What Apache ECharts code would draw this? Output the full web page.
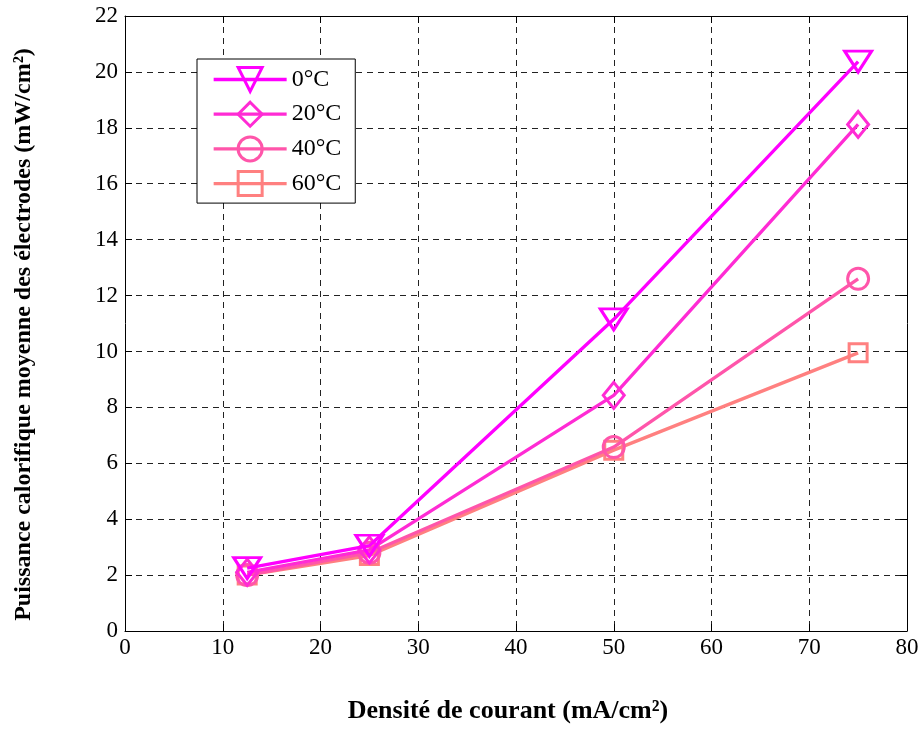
<!DOCTYPE html>
<html><head><meta charset="utf-8">
<script src="https://cdn.jsdelivr.net/npm/echarts@6/dist/echarts.min.js"></script>
<style>html,body{margin:0;padding:0;background:#fff}#c{width:923px;height:729px}</style>
</head><body><div id="c"></div>
<script>
const xValues = [12.5, 25, 50, 75];
const seriesNames = ['0°C', '20°C', '40°C', '60°C'];
const s0 = [2.25, 3.05, 11.15, 20.37];
const s20 = [2.1, 2.9, 8.43, 18.12];
const s40 = [2.0, 2.8, 6.58, 12.6];
const s60 = [2.0, 2.7, 6.47, 9.95];
const colors = ['#ff00ff', '#ff2bd4', '#ff55aa', '#ff8080'];
const symbols = ['path://M0,0 L20,0 L10,17 Z', 'diamond', 'circle', 'rect'];
const symbolSizes = [[27, 21], [21, 26], 21, 18];
const allData = [s0, s20, s40, s60];

const font = '"Liberation Serif", "Times New Roman", serif';
const chart = echarts.init(document.getElementById('c'), null, {renderer: 'canvas'});
const axisCommon = {
  axisLine: {show: true, onZero: false, lineStyle: {color: '#000', width: 1}},
  axisTick: {show: true, inside: true, length: 7, lineStyle: {color: '#000'}},
};
chart.setOption({
  animation: false,
  backgroundColor: '#fff',
  grid: {left: 125, right: 16, top: 16, bottom: 98},
  legend: {
    orient: 'vertical', left: 197, top: 59,
    data: seriesNames,
    itemWidth: 73, itemHeight: 30, itemGap: 7.7,
    padding: [7, 14, 6, 15],
    borderColor: '#000', borderWidth: 1, backgroundColor: '#fff',
    lineStyle: {width: 3.3},
    itemStyle: {borderWidth: 3},
    textStyle: {fontFamily: font, fontSize: 24, color: '#000'}
  },
  xAxis: [{
    type: 'value', min: 0, max: 80, interval: 10, position: 'bottom',
    name: 'Densité de courant (mA/cm²)', nameLocation: 'middle', nameGap: 67,
    nameTextStyle: {fontFamily: font, fontSize: 26, fontWeight: 'bold', color: '#000', padding: [0, 16, 0, 0]},
    axisLabel: {fontFamily: font, fontSize: 23, color: '#000', margin: 5},
    splitLine: {show: true, lineStyle: {color: '#222', type: [6, 5], width: 1}},
    ...axisCommon
  }, {
    type: 'value', min: 0, max: 80, interval: 10, position: 'top',
    axisLabel: {show: false}, splitLine: {show: false},
    ...axisCommon
  }],
  yAxis: [{
    type: 'value', min: 0, max: 22, interval: 2, position: 'left',
    name: 'Puissance calorifique moyenne des électrodes (mW/cm²)', nameLocation: 'middle', nameGap: 89,
    nameTextStyle: {fontFamily: font, fontSize: 24, fontWeight: 'bold', color: '#000', padding: [0, 22, 0, 0]},
    axisLabel: {fontFamily: font, fontSize: 23, color: '#000', margin: 7},
    splitLine: {show: true, lineStyle: {color: '#222', type: [6, 5], width: 1}},
    ...axisCommon
  }, {
    type: 'value', min: 0, max: 22, interval: 2, position: 'right',
    axisLabel: {show: false}, splitLine: {show: false},
    ...axisCommon
  }],
  series: allData.map((d, i) => ({
    name: seriesNames[i], type: 'line',
    data: xValues.map((x, j) => [x, d[j]]),
    symbol: symbols[i], symbolSize: symbolSizes[i],
    showAllSymbol: true,
    lineStyle: {color: colors[i], width: 3.3},
    itemStyle: {color: 'rgba(255,255,255,0)', borderColor: colors[i], borderWidth: 3},
    z: 10 - i
  }))
});
</script></body></html>
